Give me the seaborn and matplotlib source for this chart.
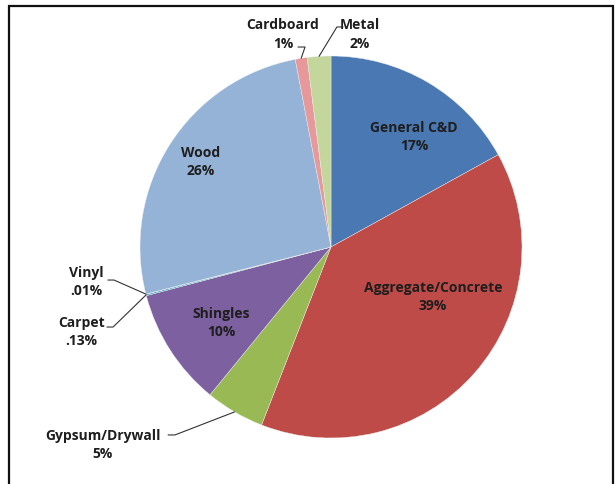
import numpy as np
import matplotlib
matplotlib.use("Agg")
import matplotlib.pyplot as plt
import seaborn as sns
from matplotlib.patches import Rectangle

# data, clockwise from 12 o'clock
categories = ["General C&D", "Aggregate/Concrete", "Gypsum/Drywall", "Shingles",
              "Carpet", "Vinyl", "Wood", "Cardboard", "Metal"]
shares = [17, 39, 5, 10, 0.13, 0.01, 26, 1, 2]
pct_labels = ["17%", "39%", "5%", "10%", ".13%", ".01%", "26%", "1%", "2%"]
colors = ["#4A78B2", "#BE4B48", "#98B954", "#7D60A0", "#4AACC6",
          "#F79646", "#95B3D7", "#E6989A", "#C3D69B"]

sns.set_theme(style="white")
plt.rcParams["font.family"] = ["Open Sans", "DejaVu Sans"]

fig = plt.figure(figsize=(6.15, 4.85), dpi=100)
ax = fig.add_axes([0, 0, 1, 1])

wedges, _ = ax.pie(shares, colors=colors, startangle=90, counterclock=False,
                   radius=1, center=(0, 0),
                   wedgeprops=dict(linewidth=0.3, edgecolor="#eeeeee"))

ax.set_xlim(-331 / 191, 284 / 191)
ax.set_ylim(-237 / 191, 248 / 191)
ax.set_aspect("equal")
ax.axis("off")

# label centres (data units) and leader-line elbows for the small slices
label_pos = {
    "General C&D": (0.435, 0.581),
    "Aggregate/Concrete": (0.534, -0.257),
    "Shingles": (-0.576, -0.393),
    "Wood": (-0.681, 0.450),
    "Gypsum/Drywall": (-1.194, -1.031),
    "Vinyl": (-1.282, -0.178),
    "Carpet": (-1.307, -0.440),
    "Cardboard": (-0.251, 1.118),
    "Metal": (0.150, 1.118),
}
leaders = {
    "Gypsum/Drywall": [(-0.817, -0.984), (-0.853, -0.984)],
    "Vinyl": [(-1.136, -0.173), (-1.168, -0.173)],
    "Carpet": [(-1.141, -0.419), (-1.173, -0.419)],
    "Cardboard": [(-0.136, 1.047), (-0.173, 1.047)],
    "Metal": [(0.031, 1.152), (0.063, 1.152)],
}

for w, name, pct in zip(wedges, categories, pct_labels):
    x, y = label_pos[name]
    ax.text(x, y, f"{name}\n{pct}", ha="center", va="center", fontsize=10,
            fontweight="bold", color="#1e1e1e", linespacing=1.4)
    if name in leaders:
        mid = np.deg2rad((w.theta1 + w.theta2) / 2)
        pts = [(np.cos(mid), np.sin(mid))] + leaders[name]
        xs, ys = zip(*pts)
        ax.plot(xs, ys, color="#333333", lw=0.8, clip_on=False)

# frame around the chart area
fig.add_artist(Rectangle((9 / 615, -0.1), 604 / 615, 1.1 - 7 / 485,
                         transform=fig.transFigure, fill=False,
                         edgecolor="#111111", lw=1.6, clip_on=False))

fig.savefig("out.png", dpi=100)
